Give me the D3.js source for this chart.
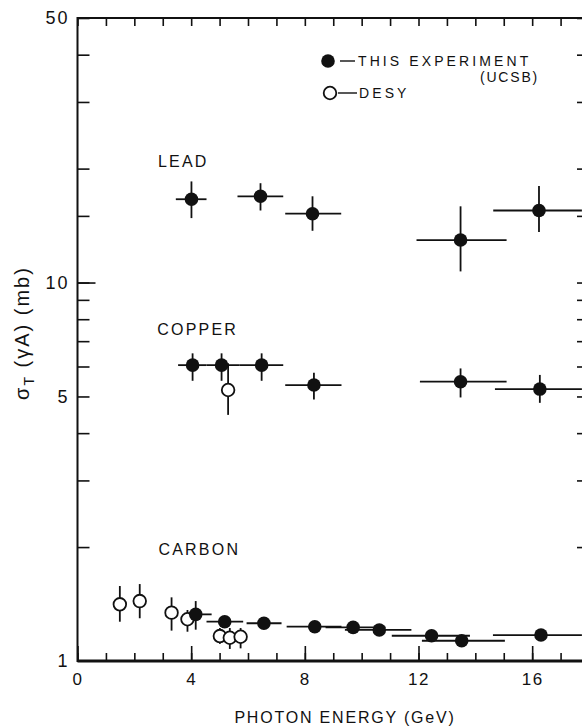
<!DOCTYPE html>
<html><head><meta charset="utf-8">
<script src="https://cdn.jsdelivr.net/npm/d3@7/dist/d3.min.js"></script>
<style>body{margin:0;background:#fff}text{font-family:"Liberation Sans",Arial,sans-serif;fill:#111}</style>
</head><body><svg id="c" width="582" height="727"></svg>
<script>
// ---- data (photon energy in GeV, cross section in mb) ----
const leadE      = [4.01, 6.44, 8.27, 13.48, 16.24];
const leadELo    = [3.46, 5.63, 7.31, 11.93, 14.63];
const leadEHi    = [4.54, 7.24, 9.28, 15.10, 17.75];
const leadS      = [16.6, 16.9, 15.2, 12.95, 15.5];
const leadSLo    = [14.8, 15.5, 13.7, 10.7, 13.6];
const leadSHi    = [18.5, 18.3, 16.9, 15.9, 18.0];

const copperE    = [4.05, 5.07, 6.48, 8.32, 13.48, 16.27];
const copperELo  = [3.54, 4.54, 5.71, 7.31, 12.05, 14.69];
const copperEHi  = [4.54, 5.71, 7.24, 9.29, 15.10, 17.75];
const copperS    = [6.05, 6.05, 6.05, 5.36, 5.47, 5.23];
const copperSLo  = [5.50, 5.50, 5.50, 4.91, 4.97, 4.81];
const copperSHi  = [6.50, 6.50, 6.50, 5.78, 5.93, 5.70];

const carbonE    = [4.16, 5.18, 6.56, 8.35, 9.70, 10.62, 12.46, 13.52, 16.31];
const carbonELo  = [3.78, 4.54, 5.95, 7.36, 8.73, 9.41, 11.06, 12.12, 14.62];
const carbonEHi  = [4.72, 5.83, 7.18, 9.29, 10.84, 11.75, 13.81, 15.04, 17.75];
const carbonS    = [1.328, 1.270, 1.258, 1.232, 1.227, 1.208, 1.166, 1.131, 1.171];
const carbonSLo  = [1.21, 1.25, 1.24, 1.215, 1.21, 1.19, 1.15, 1.115, 1.155];
const carbonSHi  = [1.44, 1.29, 1.275, 1.25, 1.245, 1.225, 1.18, 1.147, 1.187];

const desyCopperE  = [5.30];
const desyCopperS  = [5.20];
const desyCopperLo = [4.47];
const desyCopperHi = [6.12];

const desyCarbonE  = [1.49, 2.19, 3.31, 3.87, 5.01, 5.36, 5.74];
const desyCarbonS  = [1.412, 1.440, 1.342, 1.289, 1.164, 1.152, 1.159];
const desyCarbonLo = [1.270, 1.297, 1.203, 1.195, 1.110, 1.076, 1.080];
const desyCarbonHi = [1.578, 1.597, 1.473, 1.364, 1.222, 1.222, 1.222];

const xMajorTicks = [0, 4, 8, 12, 16];
const xMinorTicks = d3.range(0, 19);
const yTicks      = [2, 3, 4, 5, 6, 7, 8, 9, 10, 15, 20, 30, 40, 50];
const yLongTicks  = [10];
const yLabels     = [1, 5, 10, 50];

const targetLabels = ["LEAD", "COPPER", "CARBON"];
const targetLabelE = [2.83, 2.81, 2.85];
const targetLabelS = [20.9, 7.54, 1.97];

// ---- build ----
function rows(E, lo, hi, S, slo, shi) {
  return E.map((e, i) => ({e, elo: lo ? lo[i] : null, ehi: hi ? hi[i] : null, s: S[i], slo: slo[i], shi: shi[i]}));
}
const ucsb = [
  ...rows(leadE, leadELo, leadEHi, leadS, leadSLo, leadSHi),
  ...rows(copperE, copperELo, copperEHi, copperS, copperSLo, copperSHi),
  ...rows(carbonE, carbonELo, carbonEHi, carbonS, carbonSLo, carbonSHi)
];
const desy = [
  ...rows(desyCopperE, null, null, desyCopperS, desyCopperLo, desyCopperHi),
  ...rows(desyCarbonE, null, null, desyCarbonS, desyCarbonLo, desyCarbonHi)
];

const svg = d3.select("#c");
const x = d3.scaleLinear().domain([0, 18]).range([77.5, 589]);
const y = d3.scaleLog().domain([1, 50]).range([661, 18]);
const ink = "#111";

function styleAxis(g, w) {
  g.selectAll(".domain").remove();
  g.selectAll(".tick line").attr("stroke", ink).attr("stroke-width", w);
  g.selectAll(".tick text").attr("fill", ink).style("font-family", '"Liberation Sans",Arial,sans-serif');
}

// bottom
svg.append("g").attr("transform", `translate(0,${y(1)})`)
  .call(d3.axisBottom(x).tickValues(xMinorTicks).tickSize(-8).tickFormat(""))
  .call(g => styleAxis(g, 1.6));
svg.append("g").attr("transform", `translate(0,${y(1)})`)
  .call(d3.axisBottom(x).tickValues(xMajorTicks).tickSize(-15).tickPadding(12).tickFormat(d3.format("d")))
  .call(g => styleAxis(g, 1.6))
  .call(g => g.selectAll(".tick text").style("font-size", "17px").attr("letter-spacing", "1.5px"));
// top
svg.append("g").attr("transform", `translate(0,${y(50)})`)
  .call(d3.axisTop(x).tickValues(xMinorTicks).tickSize(-8).tickFormat(""))
  .call(g => styleAxis(g, 1.6));
// left
svg.append("g").attr("transform", `translate(${x(0)},0)`)
  .call(d3.axisLeft(y).tickValues(yTicks).tickSize(-12).tickFormat(""))
  .call(g => styleAxis(g, 1.6));
svg.append("g").attr("transform", `translate(${x(0)},0)`)
  .call(d3.axisLeft(y).tickValues(yLongTicks).tickSize(-18).tickFormat(""))
  .call(g => styleAxis(g, 1.6));
svg.append("g").attr("transform", `translate(${x(0)},0)`)
  .call(d3.axisLeft(y).tickValues(yLabels).tickSize(0).tickPadding(8).tickFormat(d3.format("d")))
  .call(g => styleAxis(g, 0))
  .call(g => g.selectAll(".tick text").style("font-size", "18px").attr("letter-spacing", "2px"));
// right
svg.append("g").attr("transform", `translate(${x(18)},0)`)
  .call(d3.axisRight(y).tickValues(yTicks).tickSize(-12).tickFormat(""))
  .call(g => styleAxis(g, 1.6));

// frame
svg.append("rect").attr("x", x(0)).attr("y", y(50))
  .attr("width", x(18) - x(0)).attr("height", y(1) - y(50))
  .attr("fill", "none").attr("stroke", ink).attr("stroke-width", 2);
svg.append("line").attr("x1", x(0)).attr("x2", x(18)).attr("y1", y(1)).attr("y2", y(1))
  .attr("stroke", ink).attr("stroke-width", 3);

// error bars
const eb = svg.append("g").attr("stroke", ink).attr("stroke-width", 1.8);
eb.selectAll(".h").data(ucsb).join("line")
  .attr("x1", d => x(d.elo)).attr("x2", d => x(d.ehi))
  .attr("y1", d => y(d.s)).attr("y2", d => y(d.s));
eb.selectAll(".v").data([...desy, ...ucsb]).join("line")
  .attr("x1", d => x(d.e)).attr("x2", d => x(d.e))
  .attr("y1", d => y(d.slo)).attr("y2", d => y(d.shi));

// markers
svg.append("g").selectAll("circle").data(desy).join("circle")
  .attr("cx", d => x(d.e)).attr("cy", d => y(d.s)).attr("r", 6.3)
  .attr("fill", "#fff").attr("stroke", ink).attr("stroke-width", 1.8);
svg.append("g").selectAll("circle").data(ucsb).join("circle")
  .attr("cx", d => x(d.e)).attr("cy", d => y(d.s)).attr("r", 6.8)
  .attr("fill", ink);

// target labels
svg.append("g").selectAll("text").data(targetLabels).join("text")
  .attr("x", (d, i) => x(targetLabelE[i])).attr("y", (d, i) => y(targetLabelS[i]))
  .attr("dy", "0.36em").style("font-size", "16px").attr("letter-spacing", "2.2px")
  .text(d => d);

// legend
const lg = svg.append("g");
lg.append("circle").attr("cx", 328).attr("cy", 61).attr("r", 6.8).attr("fill", ink);
lg.append("line").attr("x1", 340).attr("x2", 355).attr("y1", 61).attr("y2", 61).attr("stroke", ink).attr("stroke-width", 1.4);
lg.append("text").attr("x", 358).attr("y", 66).style("font-size", "14px").attr("letter-spacing", "3.1px").text("THIS EXPERIMENT");
lg.append("text").attr("x", 539).attr("y", 82).attr("text-anchor", "end").style("font-size", "14px").attr("letter-spacing", "1.8px").text("(UCSB)");
lg.append("circle").attr("cx", 330).attr("cy", 93).attr("r", 6.3).attr("fill", "#fff").attr("stroke", ink).attr("stroke-width", 1.8);
lg.append("line").attr("x1", 338).attr("x2", 357).attr("y1", 93).attr("y2", 93).attr("stroke", ink).attr("stroke-width", 1.4);
lg.append("text").attr("x", 359).attr("y", 98).style("font-size", "14px").attr("letter-spacing", "3.1px").text("DESY");

// axis titles
svg.append("text").attr("x", 345).attr("y", 723).attr("text-anchor", "middle")
  .style("font-size", "16px").attr("letter-spacing", "1.8px").text("PHOTON ENERGY (GeV)");
const yt = svg.append("text").attr("transform", "translate(29,333) rotate(-90)")
  .attr("text-anchor", "middle").style("font-size", "20px").attr("letter-spacing", "2px");
yt.append("tspan").text("σ");
yt.append("tspan").attr("dy", 5).style("font-size", "14px").text("T");
yt.append("tspan").attr("dy", -5).text(" (γA) (mb)");
</script></body></html>
